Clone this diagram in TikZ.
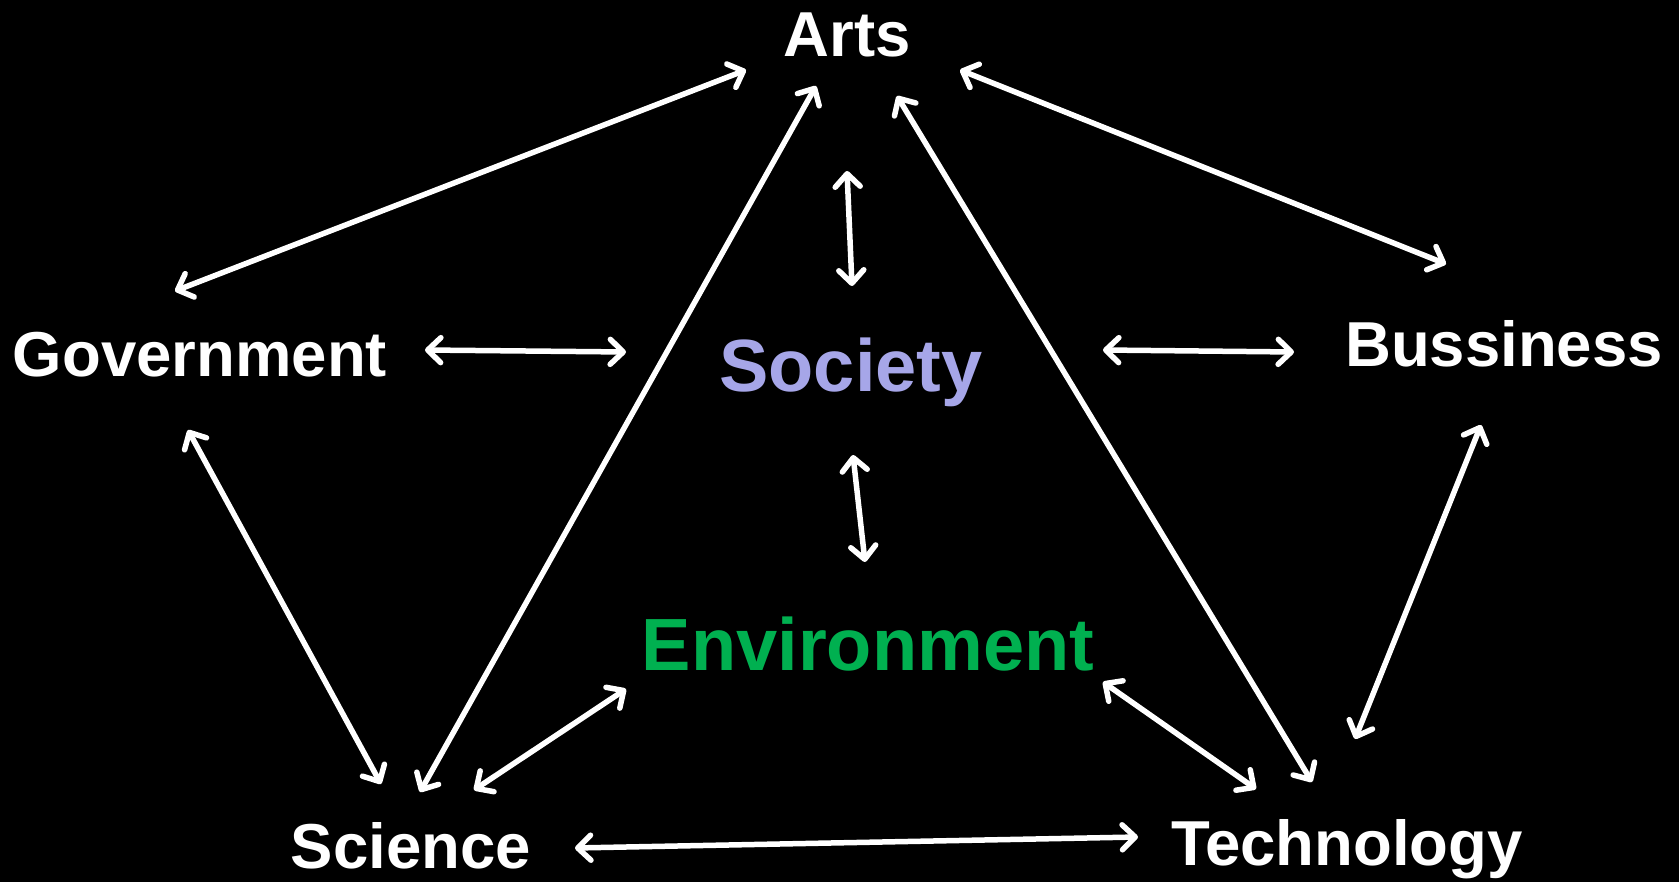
\documentclass[tikz,border=0pt]{standalone}
\usepackage{fontspec}
\setmainfont{Liberation Sans}
\usetikzlibrary{arrows.meta}
\definecolor{societyblue}{RGB}{166,166,232}
\definecolor{envgreen}{RGB}{0,176,80}

\begin{document}
\begin{tikzpicture}[x=1pt, y=-1pt,
    word/.style={white, font=\fontsize{63.5}{70}\selectfont\bfseries, inner sep=0pt, anchor=base},
    bigword/.style={word, font=\fontsize{74}{84}\selectfont\bfseries},
    link/.style={white, line width=5.5pt, {Straight Barb[length=13pt,width=25pt,round]}-{Straight Barb[length=13pt,width=25pt,round]}}]

    % background and page size
    \fill[black] (0,0) rectangle (1679,882);
    \useasboundingbox (0,0) rectangle (1679,882);

    % the seven fields
    \node[word] (arts) at (847,57) {Arts};
    \node[word] (gov) at (200,377) {Government};
    \node[word] (bus) at (1504,367) {Bussiness};
    \node[word] (sci) at (411,868) {Science};
    \node[word] (tech) at (1347,865) {Technology};
    \node[bigword, societyblue] (soc) at (851,392) {Society};
    \node[bigword, envgreen] (env) at (868,670) {Environment};

    % arrow ends
    \coordinate (arts-gov) at (746,70);   \coordinate (gov-arts) at (175,291);
    \coordinate (arts-bus) at (960,70);   \coordinate (bus-arts) at (1446,264);
    \coordinate (arts-sci) at (816,86);   \coordinate (sci-arts) at (420,792);
    \coordinate (arts-tech) at (897,96);  \coordinate (tech-arts) at (1312,782);
    \coordinate (arts-soc) at (847,171);  \coordinate (soc-arts) at (852,286);
    \coordinate (gov-soc) at (425,350);   \coordinate (soc-gov) at (626,352);
    \coordinate (soc-bus) at (1103,350);  \coordinate (bus-soc) at (1294,352);
    \coordinate (soc-env) at (853,455);   \coordinate (env-soc) at (865,562);
    \coordinate (gov-sci) at (188,430);   \coordinate (sci-gov) at (381,784);
    \coordinate (bus-tech) at (1481,425); \coordinate (tech-bus) at (1355,739);
    \coordinate (sci-env) at (474,790);   \coordinate (env-sci) at (626,689);
    \coordinate (env-tech) at (1103,682); \coordinate (tech-env) at (1256,789);
    \coordinate (sci-tech) at (575,848);  \coordinate (tech-sci) at (1138,837);

    % two way links
    \draw[link] (arts-gov) -- (gov-arts);
    \draw[link] (arts-bus) -- (bus-arts);
    \draw[link] (arts-sci) -- (sci-arts);
    \draw[link] (arts-tech) -- (tech-arts);
    \draw[link] (arts-soc) -- (soc-arts);
    \draw[link] (gov-soc) -- (soc-gov);
    \draw[link] (soc-bus) -- (bus-soc);
    \draw[link] (soc-env) -- (env-soc);
    \draw[link] (gov-sci) -- (sci-gov);
    \draw[link] (bus-tech) -- (tech-bus);
    \draw[link] (sci-env) -- (env-sci);
    \draw[link] (env-tech) -- (tech-env);
    \draw[link] (sci-tech) -- (tech-sci);

\end{tikzpicture}
\end{document}
